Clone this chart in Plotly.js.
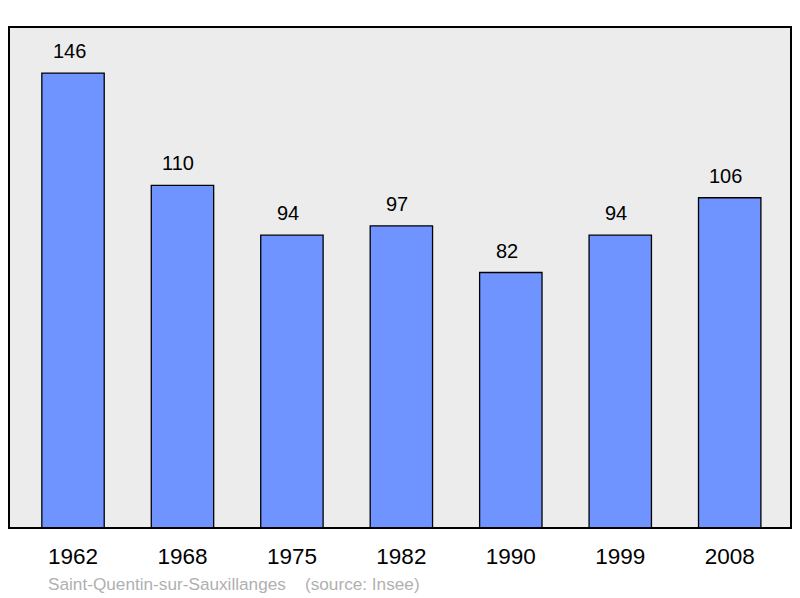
<!DOCTYPE html>
<html><head><meta charset="utf-8">
<script src="https://cdn.plot.ly/plotly-3.0.1.min.js"></script>
<style>body{margin:0;background:#fff}#c{width:800px;height:598px}</style>
</head><body><div id="c"></div>
<script>
const years = ["1962","1968","1975","1982","1990","1999","2008"];
const population = [146,110,94,97,82,94,106];
const footerText = "Saint-Quentin-sur-Sauxillanges \u00a0\u00a0\u00a0(source: Insee)";

const trace = {
  type: "bar",
  x: years.map((_, i) => i),
  y: population,
  width: 0.57,
  marker: {color: "#7094ff", line: {color: "#000", width: 1.3}},
  hoverinfo: "none"
};

const annotations = population.map((v, i) => ({
  x: i, y: v, xref: "x", yref: "y", text: String(v), showarrow: false,
  yanchor: "middle", yshift: 22, xshift: -4, font: {family: "Liberation Sans, Arial, sans-serif", size: 20, color: "#000"}
}));
annotations.push({
  xref: "paper", yref: "paper", x: 0.047, y: -0.112, xanchor: "left", yanchor: "middle",
  text: footerText, showarrow: false,
  font: {family: "Liberation Sans, Arial, sans-serif", size: 17.2, color: "#b0b0b0"}
});

const layout = {
  width: 800, height: 598,
  margin: {l: 9, r: 9, t: 27, b: 70},
  paper_bgcolor: "#fff", plot_bgcolor: "#ececec",
  showlegend: false,
  xaxis: {
    range: [-0.585, 6.56], tickmode: "array", tickvals: years.map((_, i) => i), ticktext: years,
    showgrid: false, zeroline: false, showline: false, ticks: "", ticklen: 0, ticklabelstandoff: 12,
    tickfont: {family: "Liberation Sans, Arial, sans-serif", size: 22.5, color: "#000"}, fixedrange: true
  },
  yaxis: {range: [0, 160.8], showgrid: false, zeroline: false, showticklabels: false, showline: false, ticks: "", fixedrange: true},
  annotations: annotations,
  shapes: [{
    type: "rect", xref: "paper", yref: "paper", x0: 0, x1: 1, y0: 0, y1: 1,
    line: {color: "#000", width: 2}, layer: "above"
  }]
};

Plotly.newPlot("c", [trace], layout, {displayModeBar: false, staticPlot: true});
</script></body></html>
